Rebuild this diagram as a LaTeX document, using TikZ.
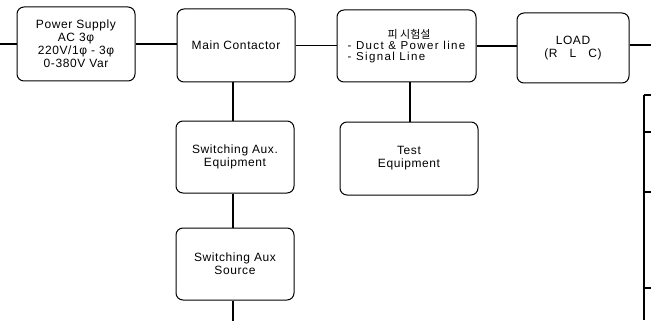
\documentclass[tikz,border=0pt]{standalone}
\usepackage{fontspec}
\setmainfont[LetterSpace=5]{Liberation Sans}
\newfontfamily\kofont{Noto Sans CJK KR}
\begin{document}
\begin{tikzpicture}[x=1pt,y=-1pt,
  blk/.style={draw, line width=1pt, rounded corners=7pt, align=center,
    font=\fontsize{12}{13}\selectfont, inner sep=2pt},
  thick conn/.style={line width=1.8pt},
  conn/.style={line width=1.1pt}]
\useasboundingbox (0,0) rectangle (651,321);
\node[blk, minimum width=118pt, minimum height=74pt] (ps) at (76,44)
  {Power Supply\\AC 3φ\\220V/1φ - 3φ\\0-380V Var};
\node[blk, minimum width=118pt, minimum height=73pt] (mc) at (236,45.5) {Main Contactor};
\node[blk, minimum width=139pt, minimum height=72pt, align=left,
  font=\fontsize{11.5}{11}\selectfont\addfontfeatures{LetterSpace=12}] (dut) at (406.5,46)
  {\hspace*{40pt}{\kofont\fontsize{11}{11}\selectfont 피 시험설}\\- Duct \& Power line\\- Signal Line};
\node[blk, minimum width=112pt, minimum height=70pt] (load) at (573,48) {LOAD\\(R\quad L\quad C)};
\node[blk, minimum width=118pt, minimum height=72pt] (sae) at (235,157) {Switching Aux.\\Equipment};
\node[blk, minimum width=118pt, minimum height=72pt] (sas) at (235,264) {Switching Aux\\Source};
\node[blk, minimum width=138pt, minimum height=73pt] (te) at (409,158.5) {Test\\Equipment};
\coordinate (lin) at (0,44);
\coordinate (rout) at (651,45);
\coordinate (vx) at (233,0);
\coordinate (bot) at (233,321);
\coordinate (vy) at (410,0);
\draw[conn] (lin) -- (ps.west);
\draw[thick conn] (ps.east) -- (mc.west |- ps.east);
\draw[conn] (mc.east) -- (dut.west |- mc.east);
\draw[thick conn] (dut.east) -- (load.west |- dut.east);
\draw[thick conn] (load.east |- rout) -- (rout);
\draw[conn] (mc.south -| vx) -- (sae.north -| vx);
\draw[conn] (sae.south -| vx) -- (sas.north -| vx);
\draw[conn] (sas.south -| vx) -- (bot);
\draw[conn] (dut.south -| vy) -- (te.north -| vy);
% partial table at right edge
\coordinate (t0) at (644,95);
\coordinate (t1) at (644,320);
\draw[conn] (t0) -- (t1);
\foreach \yy in {95,132,192,288} \draw[conn] (644,\yy) -- (651,\yy);
\end{tikzpicture}
\end{document}
